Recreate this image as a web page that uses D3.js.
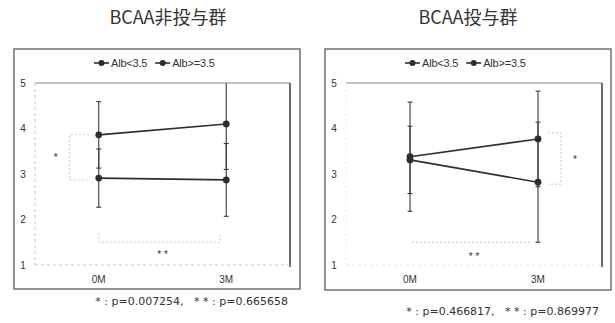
<!DOCTYPE html>
<html><head><meta charset="utf-8">
<script src="https://cdn.jsdelivr.net/npm/d3@7"></script>
<style>body{margin:0;background:#fff}</style>
</head><body><svg id="c" width="615" height="323"></svg>
<script>
// ---- data ----
const categories = ["0M", "3M"];
const seriesNames = ["Alb<3.5", "Alb>=3.5"];
const yTicks = [1, 2, 3, 4, 5];
const titles = ["BCAA非投与群", "BCAA投与群"];
// BCAA non-administered group
const nonAlbLowMean = [2.91, 2.87];
const nonAlbLowSD = [0.64, 0.80];
const nonAlbHighMean = [3.86, 4.10];
const nonAlbHighSD = [0.73, 1.00];
// BCAA administered group
const admAlbLowMean = [3.31, 2.82];
const admAlbLowSD = [0.74, 1.32];
const admAlbHighMean = [3.38, 3.77];
const admAlbHighSD = [1.20, 1.05];
// significance
const starAt = ["0M", "3M"];
const pStar = ["0.007254", "0.466817"];
const pDoubleStar = ["0.665658", "0.869977"];

// ---- layout ----
const panels = [
  { title: titles[0], box: [14, 49, 300, 289], plot: [35, 83, 290, 265], titleX: 168,
    series: [{ mean: nonAlbLowMean, sd: nonAlbLowSD }, { mean: nonAlbHighMean, sd: nonAlbHighSD }],
    star: starAt[0], starDir: -1, p1: pStar[0], p2: pDoubleStar[0], footY: 305, dashAxes: "#c8c8c8", dsTicks: true },
  { title: titles[1], box: [325, 49, 611, 290], plot: [346, 83, 602, 265], titleX: 468,
    series: [{ mean: admAlbLowMean, sd: admAlbLowSD }, { mean: admAlbHighMean, sd: admAlbHighSD }],
    star: starAt[1], starDir: 1, p1: pStar[1], p2: pDoubleStar[1], footY: 315, dashAxes: "#ececec", dsTicks: false }
];

const svg = d3.select("#c");
const latin = "'Liberation Sans', Arial, sans-serif";
const wide = "'DejaVu Sans', sans-serif";
const cjk = "'Noto Sans CJK JP', 'Noto Sans', sans-serif";
const ink = "#2e2e2e";

panels.forEach((P, pi) => {
  const [bx1, by1, bx2, by2] = P.box;
  const [px1, py1, px2, py2] = P.plot;
  const g = svg.append("g");
  const cx = (bx1 + bx2) / 2;

  // title
  g.append("text").attr("x", P.titleX).attr("y", 24).attr("text-anchor", "middle")
    .attr("font-family", cjk).attr("font-size", 18).attr("fill", "#333").text(P.title);

  // outer box
  g.append("rect").attr("x", bx1).attr("y", by1).attr("width", bx2 - bx1).attr("height", by2 - by1)
    .attr("fill", "none").attr("stroke", "#666").attr("stroke-width", 1.4);

  const x = d3.scalePoint().domain(categories).range([px1, px2]).padding(0.5);
  const y = d3.scaleLinear().domain([1, 5]).range([py2, py1]);

  // plot frame
  g.append("line").attr("x1", px1).attr("x2", px2).attr("y1", y(5)).attr("y2", y(5))
    .attr("stroke", "#8a8a8a").attr("stroke-width", 1.2);
  g.append("line").attr("x1", px2).attr("x2", px2).attr("y1", y(5)).attr("y2", y(1) + 2)
    .attr("stroke", "#444").attr("stroke-width", 1.6);
  g.append("line").attr("x1", px1).attr("x2", px1).attr("y1", y(5)).attr("y2", y(1))
    .attr("stroke", P.dashAxes).attr("stroke-dasharray", "3,3");
  g.append("line").attr("x1", px1).attr("x2", px2).attr("y1", y(1)).attr("y2", y(1))
    .attr("stroke", P.dashAxes).attr("stroke-dasharray", "3,3");

  // y tick labels
  g.selectAll(".yt").data(yTicks).enter().append("text")
    .attr("x", px1 - 12).attr("y", d => y(d)).attr("dy", "0.35em").attr("text-anchor", "middle")
    .attr("font-family", latin).attr("font-size", 10).attr("fill", "#333").text(d => d);

  // x labels
  g.selectAll(".xt").data(categories).enter().append("text")
    .attr("x", d => x(d)).attr("y", 283).attr("text-anchor", "middle")
    .attr("font-family", latin).attr("font-size", 10).attr("fill", "#333").text(d => d);

  // clip
  const clipId = "clip" + pi;
  g.append("clipPath").attr("id", clipId).append("rect")
    .attr("x", px1).attr("y", py1).attr("width", px2 - px1).attr("height", py2 - py1);
  const dg = g.append("g").attr("clip-path", `url(#${clipId})`);

  // error bars
  P.series.forEach(s => {
    categories.forEach((c, i) => {
      const lo = s.mean[i] - s.sd[i], hi = s.mean[i] + s.sd[i];
      dg.append("line").attr("x1", x(c)).attr("x2", x(c)).attr("y1", y(lo)).attr("y2", y(hi))
        .attr("stroke", "#3a3a3a").attr("stroke-width", 1.1);
      [lo, hi].forEach(v => dg.append("line").attr("x1", x(c) - 2.5).attr("x2", x(c) + 2.5)
        .attr("y1", y(v)).attr("y2", y(v)).attr("stroke", "#3a3a3a").attr("stroke-width", 1.1));
    });
  });
  // lines + markers
  const line = d3.line().x((d, i) => x(categories[i])).y(d => y(d));
  P.series.forEach(s => {
    dg.append("path").attr("d", line(s.mean)).attr("fill", "none").attr("stroke", ink).attr("stroke-width", 1.6);
    dg.selectAll(null).data(s.mean).enter().append("circle")
      .attr("cx", (d, i) => x(categories[i])).attr("cy", d => y(d)).attr("r", 3.4).attr("fill", ink);
  });

  // * bracket
  const si = categories.indexOf(P.star);
  const sx = x(P.star);
  const m0 = P.series[0].mean[si], m1 = P.series[1].mean[si];
  const bxA = sx + P.starDir * 10, bxB = sx + P.starDir * (P.starDir < 0 ? 29 : 23);
  const ya = y(Math.max(m0, m1)) + (P.starDir > 0 ? -6 : 0), yb = y(Math.min(m0, m1)) + 2;
  g.append("path").attr("d", `M${bxA},${ya}H${bxB}V${yb}H${bxA}`)
    .attr("fill", "none").attr("stroke", "#c4c4c4").attr("stroke-width", 0.9).attr("stroke-dasharray", "2,2");
  g.append("text").attr("x", bxB + P.starDir * 14).attr("y", (ya + yb) / 2 + 4).attr("text-anchor", "middle")
    .attr("font-family", latin).attr("font-size", 10).attr("fill", "#333").text("*");

  // ** bracket
  const by = y(1.5);
  const bx0 = x(categories[0]) + (P.dsTicks ? 0 : 2), bx3 = x(categories[1]) - 6;
  const dpath = P.dsTicks ? `M${bx0},${by - 9}V${by}H${bx3}V${by - 9}` : `M${bx0},${by}H${bx3}`;
  g.append("path").attr("d", dpath).attr("fill", "none").attr("stroke", "#c4c4c4")
    .attr("stroke-width", 0.9).attr("stroke-dasharray", "2,2");
  g.append("text").attr("x", (x(categories[0]) + x(categories[1])) / 2).attr("y", by + (P.dsTicks ? 16 : 18))
    .attr("text-anchor", "middle").attr("font-family", latin).attr("font-size", 10).attr("fill", "#333").text("* *");

  // legend
  const lg = g.append("g");
  let lx = cx - 63;
  seriesNames.forEach(name => {
    const ly = 63;
    lg.append("line").attr("x1", lx).attr("x2", lx + 15).attr("y1", ly).attr("y2", ly)
      .attr("stroke", ink).attr("stroke-width", 1.6);
    lg.append("circle").attr("cx", lx + 7.5).attr("cy", ly).attr("r", 3).attr("fill", ink);
    const t = lg.append("text").attr("x", lx + 17).attr("y", ly).attr("dy", "0.35em")
      .attr("font-family", latin).attr("font-size", 11).attr("fill", "#333")
      .attr("letter-spacing", -0.2).text(name);
    lx += 17 + t.node().getComputedTextLength() + 8;
  });

  // footnote
  g.append("text").attr("x", bx2 - 12).attr("y", P.footY).attr("text-anchor", "end")
    .attr("font-family", wide).attr("font-size", 11).attr("fill", "#333")
    .style("white-space", "pre")
    .text(`* : p=${P.p1},   * * : p=${P.p2}`);
});
</script></body></html>
